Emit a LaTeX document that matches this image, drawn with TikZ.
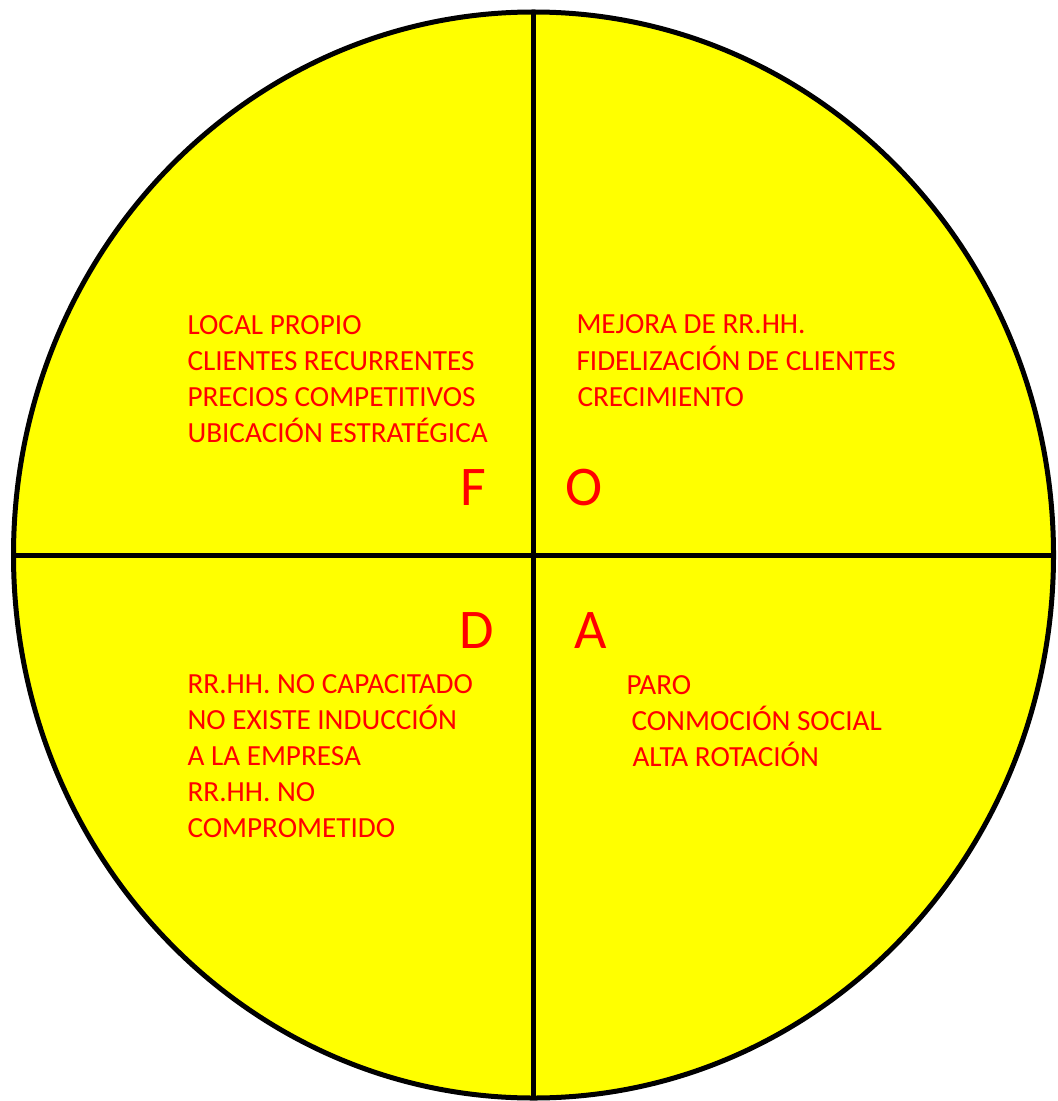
\documentclass[tikz,border=0pt]{standalone}
\usepackage{fontspec}
\setmainfont{Carlito}
\usetikzlibrary{shapes.geometric}
\definecolor{FodaYellow}{HTML}{FFFF00}
\definecolor{FodaRed}{HTML}{FF0000}
\begin{document}
\begin{tikzpicture}[x=0.5pt,y=-0.5pt,line width=2.5pt,
  item/.style={anchor=base west,inner sep=0pt,align=left,text=FodaRed,font=\fontsize{14.6}{18}\selectfont},
  letter/.style={anchor=base,inner sep=0pt,text=FodaRed,font=\fontsize{28}{30}\selectfont}]
\useasboundingbox (0,0) rectangle (1057,1101);
\node[ellipse,draw=black,fill=FodaYellow,minimum width=520pt,minimum height=543pt,inner sep=0pt,outer sep=0pt] (foda) at (533.5,555) {};
\draw (foda.north) -- (foda.south);
\draw (foda.west) -- (foda.east);
% quadrant letters
\node[letter] (F) at (473,505) {F};
\node[letter] (O) at (584,505) {O};
\node[letter] (D) at (477,648) {D};
\node[letter] (A) at (591,648) {A};
% quadrant texts (placed at the baseline of their last line)
\node[item] (fortalezas) at (185,442) {LOCAL PROPIO\\CLIENTES RECURRENTES\\PRECIOS COMPETITIVOS\\UBICACIÓN ESTRATÉGICA};
\node[item] (oportunidades) at (574,406) {MEJORA DE RR.HH.\\FIDELIZACIÓN DE CLIENTES\\\hspace{0.5pt}CRECIMIENTO};
\node[item] (debilidades) at (185,837) {RR.HH. NO CAPACITADO\\NO EXISTE INDUCCIÓN\\A LA EMPRESA\\RR.HH. NO\\COMPROMETIDO};
\node[item] (amenazas) at (624,766) {PARO\\\hspace{2.5pt}CONMOCIÓN SOCIAL\\\hspace{3pt}ALTA ROTACIÓN};
\end{tikzpicture}
\end{document}
